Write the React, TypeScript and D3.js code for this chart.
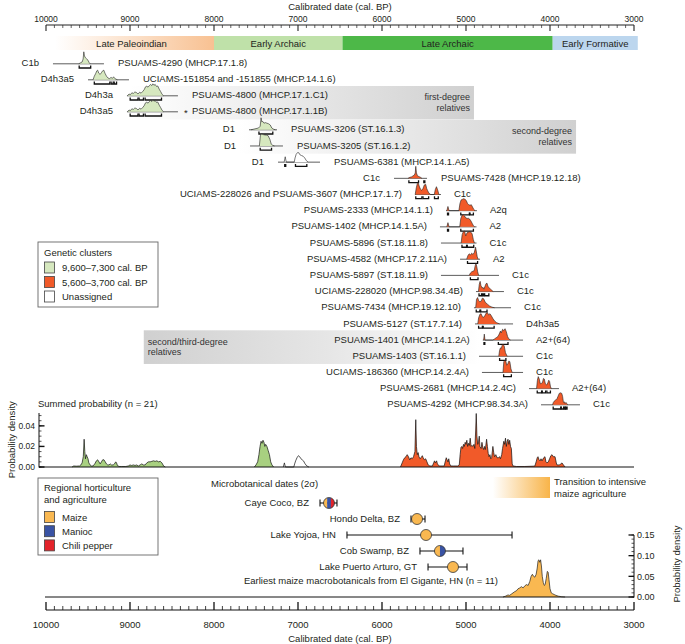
import React from "react";
import * as d3 from "d3";

// ---------------- Data ----------------
const majorTicks = [10000, 9000, 8000, 7000, 6000, 5000, 4000, 3000];

const periodNames = ["Late Paleoindian", "Early Archaic", "Late Archaic", "Early Formative"];
const periodStart = [9893, 8000, 6470, 3968];
const periodEnd = [8000, 6470, 3968, 2955];
const periodFills = ["url(#gradPaleo)", "#bfe1a9", "#4db848", "#bcd6ee"];

const rowIds = [
  "PSUAMS-4290 (MHCP.17.1.8)",
  "UCIAMS-151854 and -151855 (MHCP.14.1.6)",
  "PSUAMS-4800 (MHCP.17.1.C1)",
  "PSUAMS-4800 (MHCP.17.1.1B)",
  "PSUAMS-3206 (ST.16.1.3)",
  "PSUAMS-3205 (ST.16.1.2)",
  "PSUAMS-6381 (MHCP.14.1.A5)",
  "PSUAMS-7428 (MHCP.19.12.18)",
  "UCIAMS-228026 and PSUAMS-3607 (MHCP.17.1.7)",
  "PSUAMS-2333 (MHCP.14.1.1)",
  "PSUAMS-1402 (MHCP.14.1.5A)",
  "PSUAMS-5896 (ST.18.11.8)",
  "PSUAMS-4582 (MHCP.17.2.11A)",
  "PSUAMS-5897 (ST.18.11.9)",
  "UCIAMS-228020 (MHCP.98.34.4B)",
  "PSUAMS-7434 (MHCP.19.12.10)",
  "PSUAMS-5127 (ST.17.7.14)",
  "PSUAMS-1401 (MHCP.14.1.2A)",
  "PSUAMS-1403 (ST.16.1.1)",
  "UCIAMS-186360 (MHCP.14.2.4A)",
  "PSUAMS-2681 (MHCP.14.2.4C)",
  "PSUAMS-4292 (MHCP.98.34.3A)",
];
const rowHaps = [
  "C1b", "D4h3a5", "D4h3a", "D4h3a5", "D1", "D1", "D1", "C1c", "C1c", "A2q", "A2",
  "C1c", "A2", "C1c", "C1c", "C1c", "D4h3a5", "A2+(64)", "C1c", "C1c", "A2+(64)", "C1c",
];
const rowClusters = [
  "g", "g", "g", "g", "g", "g", "w", "o", "o", "o", "o",
  "o", "o", "o", "o", "o", "o", "o", "o", "o", "o", "o",
];
const rowStarred = [false, false, false, true, false, false, false, false, false, false, false,
  false, false, false, false, false, false, false, false, false, false, false];
const rowLines: [number, number][] = [
  [9917, 9310], [9500, 9012], [9036, 8429], [9036, 8429], [7583, 7250], [7571, 7179],
  [7238, 6738], [5857, 5464], [5607, 5298], [5238, 4870], [5310, 4875], [5298, 4875],
  [5071, 4833], [5298, 4607], [4881, 4548], [4905, 4464], [4893, 4440], [4800, 4321],
  [4845, 4321], [4810, 4321], [4250, 3893], [4107, 3643],
];

const dens0 = [[9610,0],[9590,0.08],[9570,0.15],[9558,0.4],[9550,1],[9542,0.65],[9530,0.5],[9515,0.4],[9500,0.3],[9488,0.12],[9475,0]];
const dens1 = [[9440,0],[9425,0.3],[9410,0.5],[9395,0.75],[9385,0.8],[9372,0.55],[9355,0.45],[9340,0.6],[9325,0.75],[9312,0.8],[9298,0.55],[9280,0.3],[9262,0.15],[9245,0.1],[9225,0.2],[9210,0.12],[9195,0.25],[9180,0.1],[9165,0.05],[9150,0]];
const dens2 = [[9030,0],[9012,0.15],[8995,0.1],[8978,0.25],[8960,0.2],[8942,0.32],[8925,0.28],[8905,0.15],[8885,0.3],[8868,0.22],[8850,0.35],[8832,0.5],[8815,0.75],[8800,0.8],[8785,0.72],[8770,0.85],[8755,0.95],[8742,0.85],[8728,1],[8715,0.88],[8700,0.95],[8685,0.78],[8670,0.82],[8652,0.55],[8635,0.35],[8618,0.12],[8600,0]];
const dens3 = [[9030,0],[9012,0.15],[8995,0.1],[8978,0.25],[8960,0.2],[8942,0.32],[8925,0.28],[8905,0.15],[8885,0.3],[8868,0.22],[8850,0.35],[8832,0.5],[8815,0.75],[8800,0.8],[8785,0.72],[8770,0.85],[8755,0.95],[8742,0.85],[8728,1],[8715,0.88],[8700,0.95],[8685,0.78],[8670,0.82],[8652,0.55],[8635,0.35],[8618,0.12],[8600,0]];
const dens4 = [[7560,0],[7530,0.05],[7500,0.1],[7470,0.15],[7450,0.3],[7440,1],[7430,0.65],[7420,0.7],[7405,0.55],[7390,0.6],[7370,0.55],[7350,0.5],[7330,0.4],[7312,0.15],[7290,0.05],[7270,0]];
const dens5 = [[7460,0],[7448,0.85],[7435,1],[7415,0.95],[7395,0.92],[7375,0.9],[7355,0.85],[7335,0.55],[7318,0.15],[7300,0.05],[7280,0]];
const dens6 = [[7165,0],[7152,0.45],[7140,0],[7045,0],[7035,0.35],[7022,0.65],[7005,0.8],[6990,0.78],[6975,0.6],[6958,0.55],[6940,0.5],[6920,0.35],[6900,0.12],[6880,0]];
const dens7 = [[5690,0],[5670,0.08],[5650,0.12],[5632,0.2],[5615,0.28],[5604,0.45],[5598,1],[5590,0.45],[5578,0.22],[5562,0.15],[5545,0.1],[5525,0]];
const dens8 = [[5605,0],[5592,0.55],[5580,0.9],[5570,1],[5557,0.7],[5543,0.45],[5528,0.35],[5512,0.5],[5496,0.8],[5480,0.85],[5468,0.5],[5455,0.3],[5440,0.1],[5420,0],[5378,0],[5366,0.4],[5352,0.65],[5338,0.4],[5322,0]];
const dens9 = [[5228,0],[5215,0.35],[5202,0],[5085,0],[5072,0.6],[5058,0.9],[5042,0.95],[5027,1],[5012,0.95],[4997,0.85],[4982,0.6],[4967,0.5],[4952,0.45],[4937,0.5],[4922,0.3],[4907,0.1],[4892,0]];
const dens10 = [[5228,0],[5215,0.35],[5202,0],[5075,0],[5062,0.7],[5047,0.95],[5032,1],[5017,0.9],[5002,0.75],[4987,0.7],[4972,0.72],[4957,0.65],[4942,0.5],[4927,0.3],[4912,0.1],[4897,0]];
const dens11 = [[5058,0],[5046,0.7],[5032,0.95],[5017,1],[5003,0.6],[4988,0.85],[4973,0.9],[4958,0.95],[4943,0.9],[4928,0.8],[4913,0.3],[4900,0]];
const dens12 = [[4992,0],[4977,0.3],[4962,0.45],[4947,0.35],[4932,0.5],[4917,0.4],[4902,0.55],[4886,1],[4876,0.6],[4866,0.2],[4855,0]];
const dens13 = [[4962,0],[4947,0.2],[4932,0.3],[4917,0.35],[4902,0.4],[4891,0.8],[4881,1],[4871,0.7],[4861,0.3],[4850,0]];
const dens14 = [[4852,0],[4842,0.6],[4832,0.85],[4822,0.5],[4808,0.3],[4797,0.35],[4787,0.2],[4776,0.4],[4762,0.65],[4750,0.7],[4737,0.4],[4722,0.3],[4707,0.2],[4692,0.1],[4677,0]];
const dens15 = [[4885,0],[4875,0.7],[4862,0.85],[4850,0.6],[4835,0.5],[4820,0.55],[4805,0.8],[4790,0.75],[4770,0.45],[4745,0.3],[4720,0.15],[4690,0.05],[4660,0]];
const dens16 = [[4860,0],[4850,0.5],[4835,0.8],[4820,0.85],[4805,0.6],[4790,0.55],[4775,0.7],[4760,0.9],[4745,0.95],[4730,0.75],[4715,0.85],[4700,0.7],[4680,0.45],[4660,0.25],[4635,0.1],[4600,0]];
const dens17 = [[4790,0],[4782,0.5],[4774,0],[4680,0],[4660,0.1],[4640,0.2],[4620,0.3],[4605,0.5],[4590,0.75],[4580,0.6],[4565,0.9],[4550,0.8],[4535,0.95],[4520,0.7],[4505,0.3],[4490,0.1],[4470,0]];
const dens18 = [[4610,0],[4600,0.5],[4590,0.7],[4580,0.65],[4570,0.9],[4560,1],[4545,0.85],[4530,0.3],[4510,0]];
const dens19 = [[4560,0],[4550,0.9],[4538,1],[4526,0.95],[4515,0.6],[4503,0.7],[4490,0.95],[4478,0.9],[4465,0.3],[4450,0]];
const dens20 = [[4160,0],[4150,0.7],[4140,1],[4128,0.8],[4115,0.4],[4100,0.45],[4090,0.5],[4078,0.85],[4068,0.8],[4055,0.4],[4040,0.3],[4025,0.5],[4015,0.7],[4005,0.6],[3995,0.2],[3985,0]];
const dens21 = [[3970,0],[3960,0.2],[3950,0.3],[3935,0.4],[3920,0.45],[3905,0.7],[3890,0.95],[3875,1],[3860,0.95],[3850,0.7],[3840,0.2],[3830,0.25],[3820,0.1],[3810,0.2],[3800,0.1],[3790,0]];
const rowDensities = [dens0, dens1, dens2, dens3, dens4, dens5, dens6, dens7, dens8, dens9, dens10,
  dens11, dens12, dens13, dens14, dens15, dens16, dens17, dens18, dens19, dens20, dens21];

const rowBrackets: [number, number][][] = [
  [[9605, 9468]],
  [[9425, 9240], [9225, 9200], [9188, 9160]],
  [[8998, 8905], [8892, 8840], [8820, 8625]],
  [[8998, 8905], [8892, 8840], [8820, 8625]],
  [[7465, 7300]],
  [[7450, 7315]],
  [[7158, 7146], [7030, 6895]],
  [[5680, 5565], [5502, 5490]],
  [[5598, 5525], [5512, 5445], [5375, 5330]],
  [[5220, 5208], [5062, 4960], [4952, 4912]],
  [[5220, 5208], [5062, 4912]],
  [[5048, 4993], [4985, 4908]],
  [[4982, 4862]],
  [[4948, 4857]],
  [[4845, 4815], [4804, 4790], [4778, 4728]],
  [[4878, 4835], [4825, 4750]],
  [[4850, 4805], [4795, 4665]],
  [[4786, 4776], [4615, 4500]],
  [[4600, 4525]],
  [[4552, 4460]],
  [[4152, 4100], [4092, 4052], [4037, 3995]],
  [[3962, 3872], [3866, 3838], [3830, 3817], [3810, 3797]],
];

// relatedness boxes: [first row, last row, older year, younger year]
const relNames = [["first-degree", "relatives"], ["second-degree", "relatives"], ["second/third-degree", "relatives"]];
const relRows = [[2, 3], [4, 5], [17, 18]];
const relYears = [[9000, 4905], [7700, 3690], [8836, 4840]];
const relFadeLeft = [true, true, false];

// summed probability (n = 21)
const sumGreenA = [[9690,0],[9670,0.001],[9640,0.0008],[9600,0.001],[9585,0.002],[9570,0.004],[9556,0.01],[9546,0.027],[9538,0.015],[9530,0.008],[9520,0.012],[9510,0.01],[9500,0.008],[9490,0.004],[9475,0.002],[9460,0.001],[9440,0.001],[9420,0.003],[9400,0.006],[9385,0.007],[9370,0.005],[9355,0.003],[9340,0.005],[9325,0.007],[9310,0.007],[9295,0.005],[9280,0.003],[9265,0.002],[9250,0.002],[9235,0.003],[9220,0.002],[9200,0.002],[9185,0.003],[9170,0.005],[9160,0.004],[9150,0.0015],[9130,0.0005],[9100,0.0005],[9050,0.0005],[9020,0.001],[9000,0.002],[8980,0.0015],[8960,0.002],[8940,0.0015],[8920,0.002],[8900,0.001],[8880,0.002],[8860,0.003],[8840,0.002],[8820,0.002],[8800,0.004],[8780,0.005],[8760,0.005],[8740,0.0055],[8720,0.006],[8700,0.0055],[8680,0.006],[8660,0.005],[8640,0.0055],[8620,0.004],[8600,0.001],[8580,0]];
const sumGreenB = [[7520,0],[7500,0.002],[7480,0.005],[7465,0.012],[7452,0.02],[7440,0.025],[7428,0.023],[7417,0.026],[7405,0.024],[7395,0.02],[7385,0.022],[7370,0.02],[7355,0.016],[7340,0.012],[7325,0.005],[7310,0.002],[7290,0]];
const sumWhite = [[7175,0],[7162,0.004],[7150,0],[7050,0],[7040,0.003],[7028,0.006],[7012,0.009],[6995,0.011],[6980,0.01],[6965,0.008],[6950,0.007],[6935,0.006],[6915,0.003],[6895,0.001],[6870,0]];
const sumOrange = [[5780,0],[5760,0.004],[5745,0.007],[5730,0.009],[5715,0.01],[5700,0.012],[5685,0.01],[5670,0.007],[5655,0.009],[5640,0.008],[5625,0.01],[5608,0.015],[5598,0.046],[5590,0.02],[5580,0.012],[5570,0.014],[5560,0.01],[5548,0.008],[5535,0.009],[5520,0.011],[5510,0.009],[5495,0.007],[5480,0.008],[5465,0.005],[5450,0.002],[5430,0.001],[5400,0.001],[5385,0.004],[5375,0.006],[5365,0.004],[5350,0.006],[5340,0.003],[5320,0.001],[5260,0.001],[5245,0.006],[5235,0.009],[5225,0.007],[5215,0.005],[5205,0.008],[5195,0.003],[5180,0.001],[5150,0.001],[5100,0.001],[5080,0.002],[5070,0.012],[5060,0.019],[5050,0.02],[5040,0.018],[5030,0.022],[5020,0.02],[5010,0.024],[5000,0.022],[4990,0.026],[4980,0.02],[4970,0.023],[4960,0.021],[4950,0.028],[4940,0.02],[4930,0.021],[4920,0.02],[4905,0.022],[4895,0.018],[4885,0.035],[4878,0.052],[4870,0.03],[4860,0.022],[4850,0.025],[4842,0.03],[4835,0.02],[4820,0.018],[4810,0.024],[4800,0.019],[4790,0.017],[4780,0.02],[4770,0.017],[4755,0.027],[4745,0.02],[4735,0.013],[4725,0.01],[4715,0.012],[4705,0.008],[4695,0.009],[4680,0.02],[4670,0.014],[4660,0.01],[4645,0.012],[4630,0.009],[4615,0.009],[4600,0.01],[4590,0.008],[4575,0.012],[4565,0.018],[4550,0.025],[4540,0.022],[4530,0.028],[4520,0.02],[4510,0.025],[4500,0.027],[4490,0.022],[4480,0.026],[4470,0.02],[4460,0.018],[4450,0.003],[4440,0.001],[4400,0.0005],[4300,0.0005],[4200,0.0008],[4180,0.001],[4165,0.005],[4152,0.009],[4143,0.01],[4130,0.007],[4118,0.006],[4107,0.008],[4095,0.006],[4075,0.009],[4060,0.01],[4048,0.005],[4036,0.004],[4020,0.005],[4005,0.008],[3990,0.011],[3976,0.012],[3960,0.01],[3940,0.01],[3925,0.004],[3917,0.002],[3890,0.002],[3870,0.003],[3857,0.004],[3840,0.002],[3821,0]];

// microbotanical dates (2 sigma)
const siteNames = ["Caye Coco, BZ", "Hondo Delta, BZ", "Lake Yojoa, HN", "Cob Swamp, BZ", "Lake Puerto Arturo, GT"];
const siteMid = [6631, 5583, 5476, 5310, 5155];
const siteOld = [6738, 5655, 6417, 5548, 5452];
const siteYoung = [6536, 5488, 4452, 5036, 4988];
const siteCrops = [["maize", "manioc", "chili"], ["maize"], ["maize"], ["maize", "manioc"], ["maize"]];

const cropNames = ["Maize", "Manioc", "Chili pepper"];
const cropKeys = ["maize", "manioc", "chili"];

const clusterNames = ["9,600\u20137,300 cal. BP", "5,600\u20133,700 cal. BP", "Unassigned"];
const clusterKeys = ["g", "o", "w"];

// earliest maize macrobotanicals (El Gigante, n = 11)
const maizeDensity = [[4560,0],[4530,0.002],[4500,0.005],[4480,0.004],[4460,0.007],[4440,0.01],[4420,0.013],[4400,0.015],[4380,0.02],[4360,0.022],[4340,0.025],[4320,0.022],[4300,0.027],[4280,0.03],[4260,0.028],[4240,0.038],[4225,0.05],[4210,0.055],[4195,0.05],[4180,0.048],[4165,0.055],[4152,0.07],[4142,0.088],[4132,0.09],[4122,0.084],[4112,0.09],[4102,0.075],[4092,0.05],[4080,0.035],[4068,0.028],[4058,0.03],[4045,0.045],[4032,0.062],[4022,0.06],[4012,0.042],[4000,0.02],[3985,0.01],[3970,0.008],[3950,0.006],[3930,0.004],[3900,0.002],[3860,0.0005],[3820,0]];

const sumTicks = [0, 0.02, 0.04];
const maizeTicks = [0, 0.05, 0.1, 0.15];

// ---------------- Styles ----------------
const FONT = "'Liberation Sans', Arial, Helvetica, sans-serif";
const TXT = "#231f20";
const clusterRowFill: Record<string, string> = { g: "#d6e8bf", o: "#f15a29", w: "#ffffff" };
const clusterSumFill: Record<string, string> = { g: "#a8d080", o: "#f15a29", w: "#ffffff" };
const cropColor: Record<string, string> = { maize: "#f9b851", manioc: "#3953a4", chili: "#e3232a" };

export default function App() {
  const x = d3.scaleLinear().domain([10000, 3000]).range([46, 634]);
  const rowY = d3.scaleLinear().domain([0, 3, 4, 21]).range([63, 111, 129, 404]);
  const distH = d3.scaleLinear().domain([0, 1]).range([0, 12]);
  const ySum = d3.scaleLinear().domain([0, 0.0525]).range([467, 413]);
  const yMaize = d3.scaleLinear().domain([0, 0.15]).range([597, 535]);
  const siteY = d3.scaleLinear().domain([0, 4]).range([503, 567]);

  const minor = d3.range(10000, 2999, -100);
  const fs = 9.5;

  const sumArea = d3.area<number[]>().x((d) => x(d[0])).y0(ySum(0)).y1((d) => ySum(d[1]));
  const sumLine = d3.line<number[]>().x((d) => x(d[0])).y((d) => ySum(d[1]));
  const maizeArea = d3.area<number[]>().x((d) => x(d[0])).y0(yMaize(0)).y1((d) => yMaize(d[1]));
  const maizeLine = d3.line<number[]>().x((d) => x(d[0])).y((d) => yMaize(d[1]));

  const sumMinor = d3.range(0, 0.0526, 0.005);
  const maizeMinor = d3.range(0, 0.1501, 0.01);

  const circleR = 5.5;

  return (
    <svg width={685} height={644} viewBox="0 0 685 644" style={{ position: "absolute", left: 0, top: 0, background: "#fff" }} fontFamily={FONT}>
      <style>{`body{margin:0}`}</style>
      <defs>
        <linearGradient id="gradPaleo" x1="0" x2="1" y1="0" y2="0">
          <stop offset="0" stopColor="#ffffff" />
          <stop offset="1" stopColor="#f8c192" />
        </linearGradient>
        <linearGradient id="gradTrans" x1="0" x2="1" y1="0" y2="0">
          <stop offset="0" stopColor="#ffffff" />
          <stop offset="1" stopColor="#f8b449" />
        </linearGradient>
        <linearGradient id="grayRight" x1="0" x2="1" y1="0" y2="0">
          <stop offset="0" stopColor="#ffffff" />
          <stop offset="1" stopColor="#d0d0d0" />
        </linearGradient>
        <linearGradient id="grayLeft" x1="0" x2="1" y1="0" y2="0">
          <stop offset="0" stopColor="#d0d0d0" />
          <stop offset="0.55" stopColor="#e6e6e6" />
          <stop offset="1" stopColor="#ffffff" />
        </linearGradient>
        {siteMid.map((m, i) => (
          <clipPath id={`clipSite${i}`} key={i}>
            <circle cx={x(m)} cy={siteY(i)} r={circleR} />
          </clipPath>
        ))}
      </defs>

      {/* ---------- Top axis ---------- */}
      <text x={(x(10000) + x(3000)) / 2} y={10} textAnchor="middle" fontSize={9.5} fill={TXT}>Calibrated date (cal. BP)</text>
      <line x1={x(10000)} x2={x(3000)} y1={25} y2={25} stroke="#222" strokeWidth={1} />
      {minor.map((v) => (
        <line key={v} x1={x(v)} x2={x(v)} y1={25} y2={v % 1000 === 0 ? 31 : 28} stroke="#222" strokeWidth={v % 1000 === 0 ? 1.1 : 0.7} />
      ))}
      {majorTicks.map((v) => (
        <text key={v} x={x(v)} y={21.5} textAnchor="middle" fontSize={8.5} fill={TXT}>{v}</text>
      ))}

      {/* ---------- Period band ---------- */}
      {periodNames.map((n, i) => (
        <g key={n}>
          <rect x={x(periodStart[i])} y={36} width={x(periodEnd[i]) - x(periodStart[i])} height={14} fill={periodFills[i]} />
          <text x={(x(periodStart[i]) + x(periodEnd[i])) / 2 + (i === 0 ? -3 : 0)} y={46.5} textAnchor="middle" fontSize={9.5} fill={TXT}>{n}</text>
        </g>
      ))}

      {/* ---------- Relatedness boxes ---------- */}
      {relNames.map((lines, k) => {
        const y0 = rowY(relRows[k][0]) - 9;
        const y1 = rowY(relRows[k][1]) + 8.5;
        const xa = x(relYears[k][0]);
        const xb = x(relYears[k][1]);
        const mid = (y0 + y1) / 2;
        return (
          <g key={k}>
            <rect x={xa} y={y0} width={xb - xa} height={y1 - y0} fill={relFadeLeft[k] ? "url(#grayRight)" : "url(#grayLeft)"} />
            {lines.map((t, j) => (
              <text key={j} x={relFadeLeft[k] ? xb - 4 : xa + 4} y={mid - 2.5 + j * 10.5} textAnchor={relFadeLeft[k] ? "end" : "start"} fontSize={9} fill="#333">{t}</text>
            ))}
          </g>
        );
      })}

      {/* ---------- Individual calibrated dates ---------- */}
      {rowIds.map((id, i) => {
        const yc = rowY(i);
        const base = yc + 0.8;
        const area = d3.area<number[]>().x((d) => x(d[0])).y0(base).y1((d) => base - distH(d[1]));
        const top = d3.line<number[]>().x((d) => x(d[0])).y((d) => base - distH(d[1]));
        const xs = x(rowLines[i][0]);
        const xe = x(rowLines[i][1]);
        const hapLeft = i < 8;
        return (
          <g key={i}>
            <line x1={xs} x2={xe} y1={base} y2={base} stroke="#333" strokeWidth={0.8} />
            <path d={area(rowDensities[i]) || ""} fill={clusterRowFill[rowClusters[i]]} stroke="none" />
            <path d={top(rowDensities[i]) || ""} fill="none" stroke="#222" strokeWidth={0.6} />
            {rowBrackets[i].map((b, j) => (
              <path key={j} d={`M${x(b[0])},${base + 1.8}V${base + 4.2}H${x(b[1])}V${base + 1.8}`} fill="none" stroke="#111" strokeWidth={1.3} />
            ))}
            {hapLeft ? (
              <>
                <text x={xs - 14} y={yc + 3.4} textAnchor="end" fontSize={fs} fill={TXT}>{rowHaps[i]}</text>
                <text x={xe + 14} y={yc + 3.4} textAnchor="start" fontSize={fs} fill={TXT}>{id}</text>
                {rowStarred[i] && (
                  <text x={xe + 6} y={yc + 4.5} textAnchor="start" fontSize={fs} fill={TXT}>*</text>
                )}
              </>
            ) : (
              <>
                <text x={xs - 13} y={yc + 3.4} textAnchor="end" fontSize={fs} fill={TXT}>{id}</text>
                <text x={xe + 13} y={yc + 3.4} textAnchor="start" fontSize={fs} fill={TXT}>{rowHaps[i]}</text>
              </>
            )}
          </g>
        );
      })}

      {/* ---------- Genetic clusters legend ---------- */}
      <rect x={38} y={242} width={120} height={65} fill="#fff" stroke="#666" strokeWidth={0.9} />
      <text x={44} y={256} fontSize={fs} fill={TXT}>Genetic clusters</text>
      {clusterNames.map((n, i) => (
        <g key={n}>
          <rect x={44.5} y={262 + i * 14.5} width={10} height={11} fill={clusterRowFill[clusterKeys[i]]} stroke="#444" strokeWidth={0.8} />
          <text x={62} y={271 + i * 14.5} fontSize={fs} fill={TXT}>{n}</text>
        </g>
      ))}

      {/* ---------- Summed probability ---------- */}
      <text x={38} y={406.5} fontSize={fs} fill={TXT}>Summed probability (n = 21)</text>
      <text transform={`translate(15,${ySum(0.0265)}) rotate(-90)`} textAnchor="middle" fontSize={fs} fill={TXT}>Probability density</text>
      {[sumGreenA, sumGreenB].map((d, i) => (
        <path key={`g${i}`} d={sumArea(d) || ""} fill={clusterSumFill.g} />
      ))}
      <path d={sumArea(sumWhite) || ""} fill={clusterSumFill.w} />
      <path d={sumArea(sumOrange) || ""} fill={clusterSumFill.o} />
      {[sumGreenA, sumGreenB, sumWhite, sumOrange].map((d, i) => (
        <path key={`l${i}`} d={sumLine(d) || ""} fill="none" stroke="#111" strokeWidth={0.7} />
      ))}
      <line x1={39} x2={x(3000)} y1={ySum(0)} y2={ySum(0)} stroke="#111" strokeWidth={1} />
      <line x1={39} x2={39} y1={ySum(0) + 0.5} y2={ySum(0.0525)} stroke="#111" strokeWidth={1} />
      {sumMinor.map((v, i) => (
        <line key={i} x1={39} x2={41.5} y1={ySum(v)} y2={ySum(v)} stroke="#111" strokeWidth={0.7} />
      ))}
      {sumTicks.map((v) => (
        <g key={v}>
          <line x1={39} x2={44.5} y1={ySum(v)} y2={ySum(v)} stroke="#111" strokeWidth={1.4} />
          <text x={35} y={ySum(v) + 3} textAnchor="end" fontSize={8.5} fill={TXT}>{v.toFixed(2)}</text>
        </g>
      ))}

      {/* ---------- Regional horticulture legend ---------- */}
      <rect x={38} y={478} width={120} height={77} fill="#fff" stroke="#666" strokeWidth={0.9} />
      <text x={44} y={490.5} fontSize={fs} fill={TXT}>Regional horticulture</text>
      <text x={44} y={502.5} fontSize={fs} fill={TXT}>and agriculture</text>
      {cropNames.map((n, i) => (
        <g key={n}>
          <rect x={44.5} y={511.5 + i * 14.2} width={10} height={11} fill={cropColor[cropKeys[i]]} stroke="#444" strokeWidth={0.8} />
          <text x={62} y={520.5 + i * 14.2} fontSize={fs} fill={TXT}>{n}</text>
        </g>
      ))}

      {/* ---------- Transition ---------- */}
      <rect x={x(4680)} y={477} width={x(4000) - x(4680)} height={21} fill="url(#gradTrans)" />
      <text x={x(4000) + 4} y={485} fontSize={fs} fill={TXT}>Transition to intensive</text>
      <text x={x(4000) + 4} y={496.5} fontSize={fs} fill={TXT}>maize agriculture</text>

      {/* ---------- Microbotanical dates ---------- */}
      <text x={211} y={486.5} fontSize={fs} fill={TXT}>Microbotanical dates (2σ)</text>
      {siteNames.map((n, i) => {
        const yc = siteY(i);
        const cx = x(siteMid[i]);
        const crops = siteCrops[i];
        const stripeW = (2 * circleR) / crops.length;
        return (
          <g key={n}>
            <text x={x(siteOld[i]) - 11} y={yc + 3.4} textAnchor="end" fontSize={fs} fill={TXT}>{n}</text>
            <line x1={x(siteOld[i])} x2={x(siteYoung[i])} y1={yc} y2={yc} stroke="#111" strokeWidth={1.1} />
            <line x1={x(siteOld[i])} x2={x(siteOld[i])} y1={yc - 3.5} y2={yc + 3.5} stroke="#111" strokeWidth={1.1} />
            <line x1={x(siteYoung[i])} x2={x(siteYoung[i])} y1={yc - 3.5} y2={yc + 3.5} stroke="#111" strokeWidth={1.1} />
            <g clipPath={`url(#clipSite${i})`}>
              {crops.map((c, j) => (
                <rect key={c} x={cx - circleR + j * stripeW} y={yc - circleR} width={stripeW + 0.2} height={2 * circleR} fill={cropColor[c]} />
              ))}
            </g>
            <circle cx={cx} cy={yc} r={circleR} fill="none" stroke="#333" strokeWidth={0.8} />
          </g>
        );
      })}

      {/* ---------- Maize macrobotanicals ---------- */}
      <text x={498} y={583.5} textAnchor="end" fontSize={fs} fill={TXT}>Earliest maize macrobotanicals from El Gigante, HN (n = 11)</text>
      <path d={maizeArea(maizeDensity) || ""} fill={cropColor.maize} />
      <path d={maizeLine(maizeDensity) || ""} fill="none" stroke="#222" strokeWidth={0.7} />
      <line x1={45} x2={x(3000)} y1={yMaize(0)} y2={yMaize(0)} stroke="#111" strokeWidth={1} />
      <line x1={x(3000)} x2={x(3000)} y1={yMaize(0) + 0.5} y2={yMaize(0.15)} stroke="#111" strokeWidth={1} />
      {maizeMinor.map((v, i) => (
        <line key={i} x1={x(3000) - 2.5} x2={x(3000)} y1={yMaize(v)} y2={yMaize(v)} stroke="#111" strokeWidth={0.7} />
      ))}
      {maizeTicks.map((v) => (
        <g key={v}>
          <line x1={x(3000) - 5.5} x2={x(3000)} y1={yMaize(v)} y2={yMaize(v)} stroke="#111" strokeWidth={1.3} />
          <text x={x(3000) + 3} y={yMaize(v) + 3.3} fontSize={9} fill={TXT}>{v.toFixed(2)}</text>
        </g>
      ))}
      <text transform={`translate(680,${yMaize(0.08)}) rotate(-90)`} textAnchor="middle" fontSize={fs} fill={TXT}>Probability density</text>

      {/* ---------- Bottom axis ---------- */}
      <line x1={x(10000)} x2={x(3000)} y1={610} y2={610} stroke="#111" strokeWidth={1.2} />
      {minor.map((v) => (
        <line key={v} x1={x(v)} x2={x(v)} y1={610} y2={v % 1000 === 0 ? 602 : 606} stroke="#111" strokeWidth={v % 1000 === 0 ? 1.3 : 0.8} />
      ))}
      {majorTicks.map((v) => (
        <text key={v} x={x(v)} y={627.5} textAnchor="middle" fontSize={9.5} fill={TXT}>{v}</text>
      ))}
      <text x={(x(10000) + x(3000)) / 2} y={641.5} textAnchor="middle" fontSize={9.5} fill={TXT}>Calibrated date (cal. BP)</text>
    </svg>
  );
}
